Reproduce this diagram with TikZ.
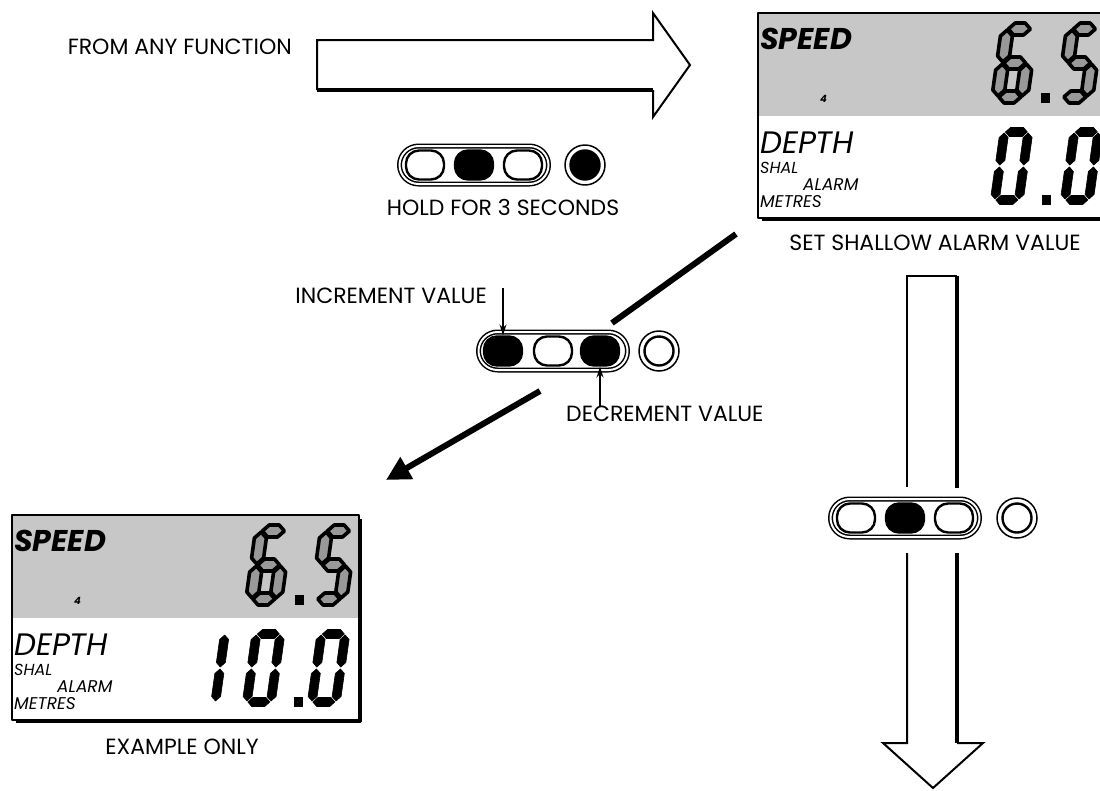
\documentclass[tikz,border=0pt]{standalone}
\usepackage{fontspec}
\setmainfont{Poppins}
\usetikzlibrary{arrows.meta,shapes.misc}

\tikzset{
  lbl/.style={inner sep=0, font=\fontsize{22}{24}\selectfont},
  bar/.style={draw, rounded rectangle, minimum width=149, minimum height=38, inner sep=0, line width=1.5, double, double distance=2},
  key/.style={draw, rectangle, rounded corners=13, minimum width=38, minimum height=29, inner sep=0, line width=2.4, fill=white},
  keyon/.style={fill=black},
  knob/.style={draw, circle, minimum size=40, inner sep=0, line width=1.5},
  knobcore/.style={draw, circle, minimum size=29, inner sep=0, line width=2.4, fill=white},
  bigarrow/.style={line width=2, line join=miter},
  pointer/.style={line width=1.4, -{Stealth[length=11, width=7]}},
  diag/.style={line width=6},
  lcdshade/.style={fill=black!22},
  lcdframe/.style={line width=2.4},
  lcdshadow/.style={line width=2.8},
  lcdword/.style={inner sep=0, anchor=base west},
}

% seven segment digits: half thickness and gap
\newcommand{\segw}{6}
\newcommand{\segg}{1}
\newcommand{\hseg}[3]{\path[lcdseg] ({#1+\segg},#3) -- ({#1+\segg+\segw},{#3-\segw}) -- ({#2-\segg-\segw},{#3-\segw}) -- ({#2-\segg},#3) -- ({#2-\segg-\segw},{#3+\segw}) -- ({#1+\segg+\segw},{#3+\segw}) -- cycle;}
\newcommand{\vseg}[3]{\path[lcdseg] (#1,{#2+\segg}) -- ({#1+\segw},{#2+\segg+\segw}) -- ({#1+\segw},{#3-\segg-\segw}) -- (#1,{#3-\segg}) -- ({#1-\segw},{#3-\segg-\segw}) -- ({#1-\segw},{#2+\segg+\segw}) -- cycle;}
\newcommand{\segA}{\hseg{6}{30}{6}}
\newcommand{\segB}{\vseg{30}{6}{40}}
\newcommand{\segC}{\vseg{30}{40}{74}}
\newcommand{\segD}{\hseg{6}{30}{74}}
\newcommand{\segE}{\vseg{6}{40}{74}}
\newcommand{\segF}{\vseg{6}{6}{40}}
\newcommand{\segG}{\hseg{6}{30}{40}}
\newcommand{\lcddigit}[3]{\begin{scope}[shift={({#1+11.2},#2)}, xslant=0.14]\foreach \sn in {#3}{\csname seg\sn\endcsname}\end{scope}}
\newcommand{\lcddot}[2]{\fill (#1,#2) rectangle ({#1+9},{#2+10});}

% display frame and words, #1 = name prefix
\newcommand{\lcdpanel}[1]{%
  \fill[lcdshade] (0,0) rectangle (347,103);
  \draw[lcdframe] (0,0) rectangle (347,205);
  \draw[lcdshadow] (4,206.5) -- (348.5,206.5) -- (348.5,4);
  \node[lcdword, font=\fontsize{30}{30}\selectfont\bfseries\itshape] (#1speed) at (2,36) {SPEED};
  \node[lcdword, font=\fontsize{10}{10}\selectfont\bfseries\itshape] (#1four) at (62,89) {4};
  \node[lcdword, font=\fontsize{31}{31}\selectfont\itshape] (#1depth) at (2,140) {DEPTH};
  \node[lcdword, font=\fontsize{16}{16}\selectfont\itshape] (#1shal) at (2,160) {SHAL};
  \node[lcdword, font=\fontsize{17}{17}\selectfont\itshape] (#1alarm) at (45,177) {ALARM};
  \node[lcdword, font=\fontsize{17}{17}\selectfont\itshape] (#1metres) at (2,194) {METRES};
  \begin{scope}[lcdseg/.style={draw=black, line width=3.6, fill=black!40}]
    \lcddigit{233}{10}{A,C,D,E,F,G}
    \lcddot{283}{80}
    \lcddigit{298}{10}{A,C,D,F,G}
  \end{scope}
}

\begin{document}
\begin{tikzpicture}[x=1pt, y=-1pt, line join=round, >=Stealth]
\clip (0,0) rectangle (1100,790);

% from any function
\node[lbl, anchor=east] (fromtxt) at (292,47) {FROM ANY FUNCTION};
\draw[bigarrow] (317,90) -- (317,40) -- (653,40) -- (653,13) -- (690,65) -- (653,117) -- (653,90);
\draw[bigarrow, line width=3.2] (653,90) -- (317,90);

% hold button
\node[bar] (holdbar) at (474,165) {};
\node[key] (holdL) at (425,165) {};
\node[key, keyon] (holdM) at (474,165) {};
\node[key] (holdR) at (523,165) {};
\node[knob] (holdknob) at (585,165) {};
\node[knobcore, keyon] (holdcore) at (585,165) {};
\node[lbl] (holdtxt) at (503,207) {HOLD FOR 3 SECONDS};

% shallow alarm display
\begin{scope}[shift={(758,13)}]
  \lcdpanel{set}
  \begin{scope}[lcdseg/.style={fill=black, draw=black, line width=0.6}]
    \renewcommand{\segw}{4.5}
    \lcddigit{230}{113}{A,B,C,D,E,F}
    \lcddot{284}{182}
    \lcddigit{300}{113}{A,B,C,D,E,F}
  \end{scope}
\end{scope}
\node[lbl] (settxt) at (935,243) {SET SHALLOW ALARM VALUE};

% increment / decrement
\coordinate (diagA) at (736,234);
\coordinate (diagB) at (612,323);
\coordinate (diagC) at (540,391);
\coordinate (diagD) at (386,480);
\draw[diag] (diagA) -- (diagB);
\draw[diag, -{Triangle[length=24, width=24]}] (diagC) -- (diagD);
\node[bar] (incbar) at (553,351) {};
\node[key, keyon] (incup) at (503,351) {};
\node[key] (incmid) at (553,351) {};
\node[key, keyon] (incdn) at (600,351) {};
\node[knob] (incknob) at (659,351) {};
\node[knobcore] (inccore) at (659,351) {};
\node[lbl, anchor=east] (inctxt) at (487,296) {INCREMENT VALUE};
\node[lbl, anchor=west] (dectxt) at (566,414) {DECREMENT VALUE};
\draw[pointer] (incup.north |- inctxt.north) -- (incup.north);
\draw[pointer] (incdn.south |- dectxt.north) -- (incdn.south);

% example display
\begin{scope}[shift={(12,515)}]
  \lcdpanel{ex}
  \begin{scope}[lcdseg/.style={fill=black, draw=black, line width=0.6}]
    \renewcommand{\segw}{4.5}
    \lcddigit{172.5}{113}{B,C}
    \lcddigit{228}{113}{A,B,C,D,E,F}
    \lcddot{282}{182}
    \lcddigit{293}{113}{A,B,C,D,E,F}
  \end{scope}
\end{scope}
\node[lbl] (extxt) at (182,747) {EXAMPLE ONLY};

% next function
\draw[bigarrow] (907,487) -- (907,276) -- (957,276);
\draw[bigarrow, line width=3.5] (957,276) -- (957,488);
\node[bar] (nextbar) at (905,518) {};
\node[key] (nextL) at (856,518) {};
\node[key, keyon] (nextM) at (905,518) {};
\node[key] (nextR) at (954,518) {};
\node[knob] (nextknob) at (1017,518) {};
\node[knobcore] (nextcore) at (1017,518) {};
\draw[bigarrow] (907,553) -- (907,743) -- (883,743) -- (933,788) -- (983,743) -- (957,743);
\draw[bigarrow, line width=3.5] (957,743) -- (957,553);
\end{tikzpicture}
\end{document}
